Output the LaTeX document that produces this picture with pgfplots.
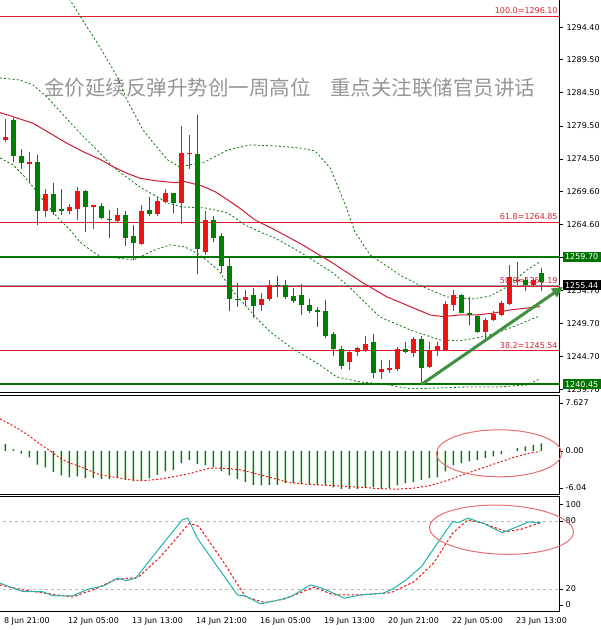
\documentclass[border=0pt]{standalone}
\usepackage{fontspec}
\setmainfont{DejaVu Sans}
\newfontfamily\cjk{Noto Sans CJK SC}
\usepackage{pgfplots}
\pgfplotsset{compat=1.18}
\usepackage{pgfplotstable}
\usetikzlibrary{arrows.meta}

\definecolor{cred}{RGB}{238,20,20}
\definecolor{cgreen}{RGB}{0,128,0}
\definecolor{bandgreen}{RGB}{0,120,0}
\definecolor{mared}{RGB}{205,25,50}
\definecolor{fibred}{RGB}{222,30,45}
\definecolor{lvgreen}{RGB}{0,118,0}
\definecolor{arrgreen}{RGB}{62,145,62}
\definecolor{curgray}{RGB}{150,152,165}
\definecolor{kteal}{RGB}{32,178,170}
\definecolor{ellred}{RGB}{232,110,110}
\definecolor{titlegray}{RGB}{150,150,150}
\definecolor{levgray}{RGB}{185,185,185}

\pgfplotstableread{
i O H L C
0 1277.3 1280.5 1277.1 1277.8
3 1273.8 1275.5 1271.1 1274.0
5 1266.6 1270.0 1265.8 1269.2
8 1266.7 1267.7 1266.2 1267.2
9 1267.0 1270.3 1265.3 1269.7
11 1267.2 1267.6 1263.9 1267.5
14 1265.1 1267.1 1265.0 1266.1
17 1261.7 1267.6 1261.5 1266.7
19 1266.2 1268.7 1265.9 1268.2
20 1268.0 1269.9 1267.8 1269.3
22 1267.9 1279.5 1264.7 1275.4
23 1275.2 1278.1 1273.0 1275.4
25 1260.4 1266.6 1260.0 1265.3
30 1253.2 1254.7 1252.5 1253.6
32 1252.4 1254.3 1251.6 1253.4
33 1253.3 1256.3 1253.0 1255.5
43 1243.9 1245.7 1242.7 1245.3
44 1245.3 1246.1 1244.7 1245.9
45 1245.7 1247.7 1245.4 1246.6
47 1242.3 1244.2 1241.3 1242.8
48 1242.6 1244.1 1242.2 1243.0
49 1242.8 1246.1 1242.5 1245.8
51 1245.2 1247.6 1244.6 1247.3
53 1243.1 1246.8 1242.9 1245.5
54 1245.5 1246.9 1244.8 1246.3
55 1245.7 1253.0 1245.6 1252.6
56 1252.5 1254.7 1251.6 1254.0
60 1248.3 1250.5 1246.9 1250.2
61 1250.2 1251.5 1250.1 1251.1
62 1251.0 1253.0 1250.8 1252.7
63 1252.6 1258.5 1252.5 1256.7
64 1256.1 1258.9 1255.5 1256.3
66 1255.5 1256.5 1255.2 1256.3
}\redtab

\pgfplotstableread{
i O H L C
1 1280.4 1280.7 1274.0 1274.9
2 1275.0 1276.0 1273.0 1273.9
4 1274.0 1275.1 1264.5 1266.6
6 1269.2 1270.9 1266.1 1266.5
7 1267.0 1269.9 1266.1 1266.7
10 1269.7 1269.8 1263.5 1267.2
12 1267.4 1267.9 1265.5 1265.6
13 1265.5 1266.8 1262.5 1265.3
15 1266.1 1266.7 1261.4 1262.6
16 1262.8 1264.5 1259.3 1261.8
18 1266.8 1268.8 1265.9 1266.2
21 1269.3 1269.4 1266.4 1267.9
24 1275.3 1281.2 1257.1 1260.9
26 1265.3 1265.9 1262.0 1262.6
27 1262.8 1263.3 1257.3 1258.3
28 1258.4 1259.8 1251.5 1253.4
29 1253.4 1255.8 1252.2 1253.2
31 1254.0 1255.0 1250.5 1252.3
34 1255.5 1256.8 1253.7 1255.3
35 1255.4 1256.3 1253.4 1253.6
36 1253.8 1255.0 1252.7 1253.1
37 1253.9 1255.6 1250.9 1252.4
38 1252.5 1253.3 1251.3 1251.6
39 1251.7 1252.2 1249.2 1251.4
40 1251.5 1253.2 1247.4 1247.8
41 1248.0 1248.4 1244.7 1245.8
42 1245.8 1246.3 1242.8 1243.3
46 1246.8 1248.0 1241.5 1242.2
50 1245.8 1246.8 1245.2 1245.4
52 1247.3 1247.8 1240.45 1242.9
57 1254.0 1254.1 1251.2 1251.3
58 1251.3 1253.7 1249.5 1250.9
59 1250.8 1251.0 1248.2 1248.3
65 1256.3 1256.7 1254.5 1255.5
67 1257.3 1258.0 1254.5 1256.0
}\greentab

\pgfplotstableread{
i h
0 0.91
1 0.2
2 -0.4
3 -0.9
4 -1.9
5 -2.28
6 -2.92
7 -3.37
8 -3.64
9 -3.5
10 -3.74
11 -3.74
12 -3.83
13 -3.83
14 -3.64
15 -3.96
16 -4.1
17 -3.96
18 -3.74
19 -3.28
20 -2.82
21 -2.6
22 -1.69
23 -1.23
24 -1.78
25 -2.0
26 -2.28
27 -2.73
28 -3.37
29 -3.83
30 -4.28
31 -4.65
32 -4.74
33 -4.65
34 -4.65
35 -4.4
36 -4.42
37 -4.56
38 -4.56
39 -4.65
40 -4.74
41 -5.0
42 -5.19
43 -5.19
44 -5.19
45 -5.0
46 -5.0
47 -5.19
48 -5.1
49 -4.74
50 -4.42
51 -4.28
52 -3.96
53 -3.74
54 -3.64
55 -2.82
56 -2.0
57 -1.69
58 -1.46
59 -1.23
60 -1.0
61 -0.77
62 -0.46
63 -0.05
64 0.36
65 0.59
66 0.82
67 1.0
}\macdtab

\newcommand{\lab}{\fontsize{8}{9}\selectfont}
\pgfplotsset{
  panel/.style={
    scale only axis, width=560pt,
    xmin=-0.675, xmax=69.325,
    axis x line*=box, axis y line*=right,
    axis line style={black, line width=1pt},
    xtick=\empty,
    anchor=south west,
  },
  band/.style={bandgreen, line width=0.8pt, dash pattern=on 2pt off 2.2pt},
}

\begin{document}
\begin{tikzpicture}
\useasboundingbox (0,0) rectangle (601pt,630pt);

% ---------------- main price panel ----------------
\begin{axis}[panel, at={(0pt,237pt)}, height=393pt,
  ymin=1239.16, ymax=1298.52,
  ytick={1239.7,1244.7,1249.7,1254.7,1259.7,1264.6,1269.6,1274.5,1279.5,1284.5,1289.5,1294.4},
  ytick align=outside, major tick length=3pt,
  tick style={black, line width=0.8pt},
  yticklabel style={font=\lab, /pgf/number format/.cd, fixed, fixed zerofill, precision=2, 1000 sep={}, assume math mode=true},
]
\addplot[fibred, line width=1pt] coordinates {(-1,1296.10) (70,1296.10)};
\addplot[fibred, line width=1pt] coordinates {(-1,1264.85) (70,1264.85)};
\addplot[curgray, line width=1pt] coordinates {(-1,1255.44) (70,1255.44)};
\addplot[fibred, line width=1pt] coordinates {(-1,1255.19) (70,1255.19)};
\addplot[fibred, line width=1pt] coordinates {(-1,1245.54) (70,1245.54)};
\addplot[lvgreen, line width=2pt] coordinates {(-1,1259.70) (70,1259.70)};
\addplot[lvgreen, line width=2pt] coordinates {(-1,1240.45) (70,1240.45)};

\node[anchor=south east, inner sep=0pt, font=\lab, text=fibred] at ([yshift=2pt]axis cs:69.05,1296.10) {100.0=1296.10};
\node[anchor=south east, inner sep=0pt, font=\lab, text=fibred] at ([yshift=3pt]axis cs:69.05,1264.85) {61.8=1264.85};
\node[anchor=south east, inner sep=0pt, font=\lab, text=fibred] at ([yshift=3pt]axis cs:69.05,1255.19) {50.0=1255.19};
\node[anchor=south east, inner sep=0pt, font=\lab, text=fibred] at ([yshift=2pt]axis cs:69.05,1245.54) {38.2=1245.54};

\node[anchor=west, inner sep=0pt, text=titlegray, font=\cjk\fontsize{20.5}{21}\selectfont] at (axis cs:4.83,1285.2) {金价延续反弹升势创一周高位};
\node[anchor=west, inner sep=0pt, text=titlegray, font=\cjk\fontsize{20.5}{21}\selectfont] at (axis cs:40.58,1285.2) {重点关注联储官员讲话};

% Bollinger upper
\addplot[band] coordinates {
(6.8,1301.54) (8.08,1298.52) (10.2,1294.44) (11.8,1291.42) (14.0,1286.89) (15.2,1283.42)
(17.2,1278.89) (18.7,1276.63) (20.3,1274.36) (21.8,1273.30) (24.95,1274.06) (27.8,1275.87)
(30.6,1276.63) (33.7,1276.47) (36.8,1276.17) (38.7,1275.72) (40.6,1273.15) (42.5,1267.56)
(43.7,1263.49) (45.6,1260.01) (49.3,1256.99) (52.2,1255.18) (55.2,1253.67) (58.4,1253.37)
(60.6,1253.82) (62.7,1255.18) (65.2,1257.75) (66.8,1258.96)};
% Bollinger middle
\addplot[band] coordinates {
(-0.68,1286.74) (1.8,1286.44) (3.45,1285.69) (5.2,1283.87) (6.45,1282.21) (9.3,1278.44)
(11.8,1275.42) (13.45,1273.30) (15.95,1271.04) (16.8,1270.28) (20.3,1267.87) (22.1,1267.26)
(24.95,1267.11) (27.8,1266.36) (29.95,1264.54) (32.1,1263.34) (33.7,1262.58) (36.8,1260.47)
(40.95,1257.30) (43.1,1255.03) (46.8,1250.65) (50.6,1248.69) (54.3,1247.18) (56.8,1247.03)
(60.2,1247.78) (63.1,1249.00) (66.8,1250.80)};
% Bollinger lower
\addplot[band] coordinates {
(-0.68,1274.66) (0.95,1273.60) (2.2,1272.10) (3.45,1270.28) (5.2,1267.56) (6.45,1265.75)
(8.1,1263.79) (9.3,1261.98) (10.6,1260.77) (11.8,1259.86) (15.95,1259.26) (18.7,1260.77)
(20.6,1261.53) (22.45,1261.22) (24.3,1260.02) (26.6,1257.75) (28.3,1254.73) (29.95,1252.46)
(31.6,1250.20) (33.1,1248.39) (35.6,1246.12) (37.2,1244.92) (39.3,1243.41) (41.4,1241.59)
(44.3,1240.84) (47.2,1240.54) (50.6,1239.78) (54.3,1239.93) (58.1,1240.08) (61.8,1240.08)
(65.2,1240.38) (66.8,1241.29)};
% moving average
\addplot[mared, line width=1pt] coordinates {
(-0.68,1281.50) (0.95,1280.90) (3.45,1279.90) (5.58,1278.39) (7.7,1276.88) (9.7,1275.61)
(11.8,1274.47) (13.45,1273.35) (15.2,1272.35) (16.8,1271.60) (18.7,1271.23) (21.2,1270.93)
(22.45,1271.08) (24.6,1270.43) (26.2,1269.57) (27.8,1268.32) (29.6,1266.81) (31.2,1265.30)
(33.7,1263.79) (36.8,1261.78) (40.95,1258.76) (44.7,1255.79) (47.7,1253.67) (50.6,1252.21)
(53.1,1250.95) (54.7,1250.70) (56.8,1250.95) (58.9,1250.95) (60.9,1251.21) (63.1,1251.71)
(66.8,1252.21)};

% candles: wicks and bodies
\addplot[draw=none, mark=none,
  error bars/.cd, y dir=plus, y explicit, error mark=none,
  error bar style={draw=cred, line width=1pt}]
  table[x=i, y=L, y error plus expr={\thisrow{H}-\thisrow{L}}] {\redtab};
\addplot[draw=none, mark=none,
  error bars/.cd, y dir=plus, y explicit, error mark=none,
  error bar style={draw=cred, line width=4.6pt}]
  table[x=i, y=O, y error plus expr={max(\thisrow{C}-\thisrow{O},0.16)}] {\redtab};
\addplot[draw=none, mark=none,
  error bars/.cd, y dir=plus, y explicit, error mark=none,
  error bar style={draw=cgreen, line width=1pt}]
  table[x=i, y=L, y error plus expr={\thisrow{H}-\thisrow{L}}] {\greentab};
\addplot[draw=none, mark=none,
  error bars/.cd, y dir=plus, y explicit, error mark=none,
  error bar style={draw=cgreen, line width=4.6pt}]
  table[x=i, y=C, y error plus expr={max(\thisrow{O}-\thisrow{C},0.16)}] {\greentab};

\coordinate (g1) at (axis cs:69.325,1259.70);
\coordinate (cp) at (axis cs:69.325,1255.44);
\coordinate (g2) at (axis cs:69.325,1240.45);
\coordinate (a1) at (axis cs:52,1240.45);
\coordinate (a2) at (axis cs:69.7,1255.2);
\end{axis}

% ---------------- MACD panel ----------------
\begin{axis}[panel, at={(0pt,135pt)}, height=100pt,
  ymin=-6.04, ymax=7.627, ytick=\empty]
\addplot[ybar, bar width=1.6pt, fill=cgreen, draw=none] table[x=i, y=h] {\macdtab};
\addplot[cred, line width=1pt, dash pattern=on 2pt off 2pt] coordinates {
(-0.68,4.37) (0.58,3.64) (1.83,2.87) (3.08,1.96) (4.33,0.91) (5.58,0) (6.83,-1.0) (8.08,-1.69)
(9.33,-2.14) (10.6,-2.73) (11.8,-3.28) (13.1,-3.51) (14.3,-3.74) (15.6,-3.96) (16.8,-4.05)
(18.1,-4.01) (19.3,-3.87) (20.6,-3.64) (21.8,-3.37) (23.1,-3.1) (24.3,-2.73) (25.6,-2.37)
(26.8,-2.37) (28.1,-2.46) (29.3,-2.6) (30.6,-2.92) (31.8,-3.28) (33.1,-3.64) (34.3,-4.0)
(35.6,-4.35) (37.7,-4.56) (40.6,-4.74) (42.7,-4.87) (44.8,-5.0) (46.8,-5.19) (48.9,-5.24)
(51.0,-5.1) (53.1,-4.74) (55.1,-4.1) (57.2,-3.28) (59.3,-2.46) (61.4,-1.69) (63.5,-0.91)
(65.5,-0.32) (66.8,-0.09)};
\end{axis}

% ---------------- Stochastic panel ----------------
\begin{axis}[panel, at={(0pt,18pt)}, height=115pt,
  ymin=0, ymax=101, ytick=\empty]
\addplot[levgray, line width=0.8pt, dash pattern=on 3pt off 3pt] coordinates {(-1,80) (70,80)};
\addplot[levgray, line width=0.8pt, dash pattern=on 3pt off 3pt] coordinates {(-1,20) (70,20)};
\addplot[cred, line width=1pt, dash pattern=on 2.5pt off 2pt] coordinates {
(-0.7,23.8) (2.2,19.4) (4.6,16.8) (8.4,13.2) (11.3,20.4) (13.7,28.5) (16.6,30.5) (19.4,48.6)
(23.0,78) (24.2,75) (27.1,45.7) (30.0,13.5) (32.4,8.3) (34.8,11.2) (37.2,17.9) (38.6,21.8)
(41.0,15) (44.4,15) (48.2,17) (51.1,26.7) (53.5,42.8) (55.9,69.2) (57.8,80.9) (59.7,78)
(62.6,70.6) (64.5,72.7) (66.9,78.5)};
\addplot[kteal, line width=1pt] coordinates {
(-0.7,25.3) (2.2,17.9) (4.6,17.9) (6.0,14.1) (8.4,14.1) (10.3,20) (12.3,22.9) (14.0,29.7)
(15.1,27.6) (16.3,29.7) (19.4,57.4) (22.1,80.9) (22.8,82.4) (24.0,64.8) (26.2,42.8) (29.0,15)
(30.0,14.1) (31.9,7.1) (33.8,10) (35.7,13.5) (38.1,23.8) (39.6,20.9) (42.4,12.1) (44.4,15)
(47.2,16.5) (48.2,19.4) (50.1,28.2) (52.0,39.9) (54.0,60.4) (55.9,79.4) (56.6,78.5) (57.8,82.4)
(59.7,78) (62.1,69.7) (64.0,75) (65.4,79.1) (66.9,78.5)};
\end{axis}

% ---------------- overlays ----------------
\draw[arrgreen, line width=3pt, -{Triangle[length=11pt, width=10pt]}] (a1) -- (a2);

\node[anchor=west, fill=lvgreen, text=white, inner xsep=0pt, inner ysep=0pt,
  minimum width=38pt, minimum height=10pt, font=\lab] at ([xshift=2.5pt]g1) {1259.70};
\node[anchor=west, fill=black, text=white, inner xsep=0pt, inner ysep=0pt,
  minimum width=38pt, minimum height=10pt, font=\lab] at ([xshift=2.5pt]cp) {1255.44};
\node[anchor=west, fill=lvgreen, text=white, inner xsep=0pt, inner ysep=0pt,
  minimum width=38pt, minimum height=10pt, font=\lab] at ([xshift=2.5pt]g2) {1240.45};

% right labels of sub panels
\foreach \yy/\tt in {227/7.627, 179/0.00, 142/-6.04, 125.5/100, 109/80, 41/20, 25/0} {
  \draw[black, line width=0.8pt] (560pt,\yy pt) -- (563pt,\yy pt);
  \node[anchor=west, inner sep=0pt, font=\lab] at (565.5pt,\yy pt) {\tt};
}

% time labels
\foreach \xx/\tt in {3.9/8 Jun 21:00, 67.9/12 Jun 05:00, 131.9/13 Jun 13:00, 195.9/14 Jun 21:00,
  259.9/16 Jun 05:00, 323.9/19 Jun 13:00, 387.9/20 Jun 21:00, 451.9/22 Jun 05:00, 515.9/23 Jun 13:00} {
  \node[anchor=base west, inner sep=0pt, font=\lab] at (\xx pt,6.1pt) {\tt};
}

% highlight ellipses
\draw[ellred, line width=1pt] (499pt,176.7pt) ellipse [x radius=62.5pt, y radius=23.5pt];
\draw[ellred, line width=1pt, rotate around={-2:(501.5pt,100.3pt)}] (501.5pt,100.3pt) ellipse [x radius=72pt, y radius=24.5pt];
\end{tikzpicture}
\end{document}
